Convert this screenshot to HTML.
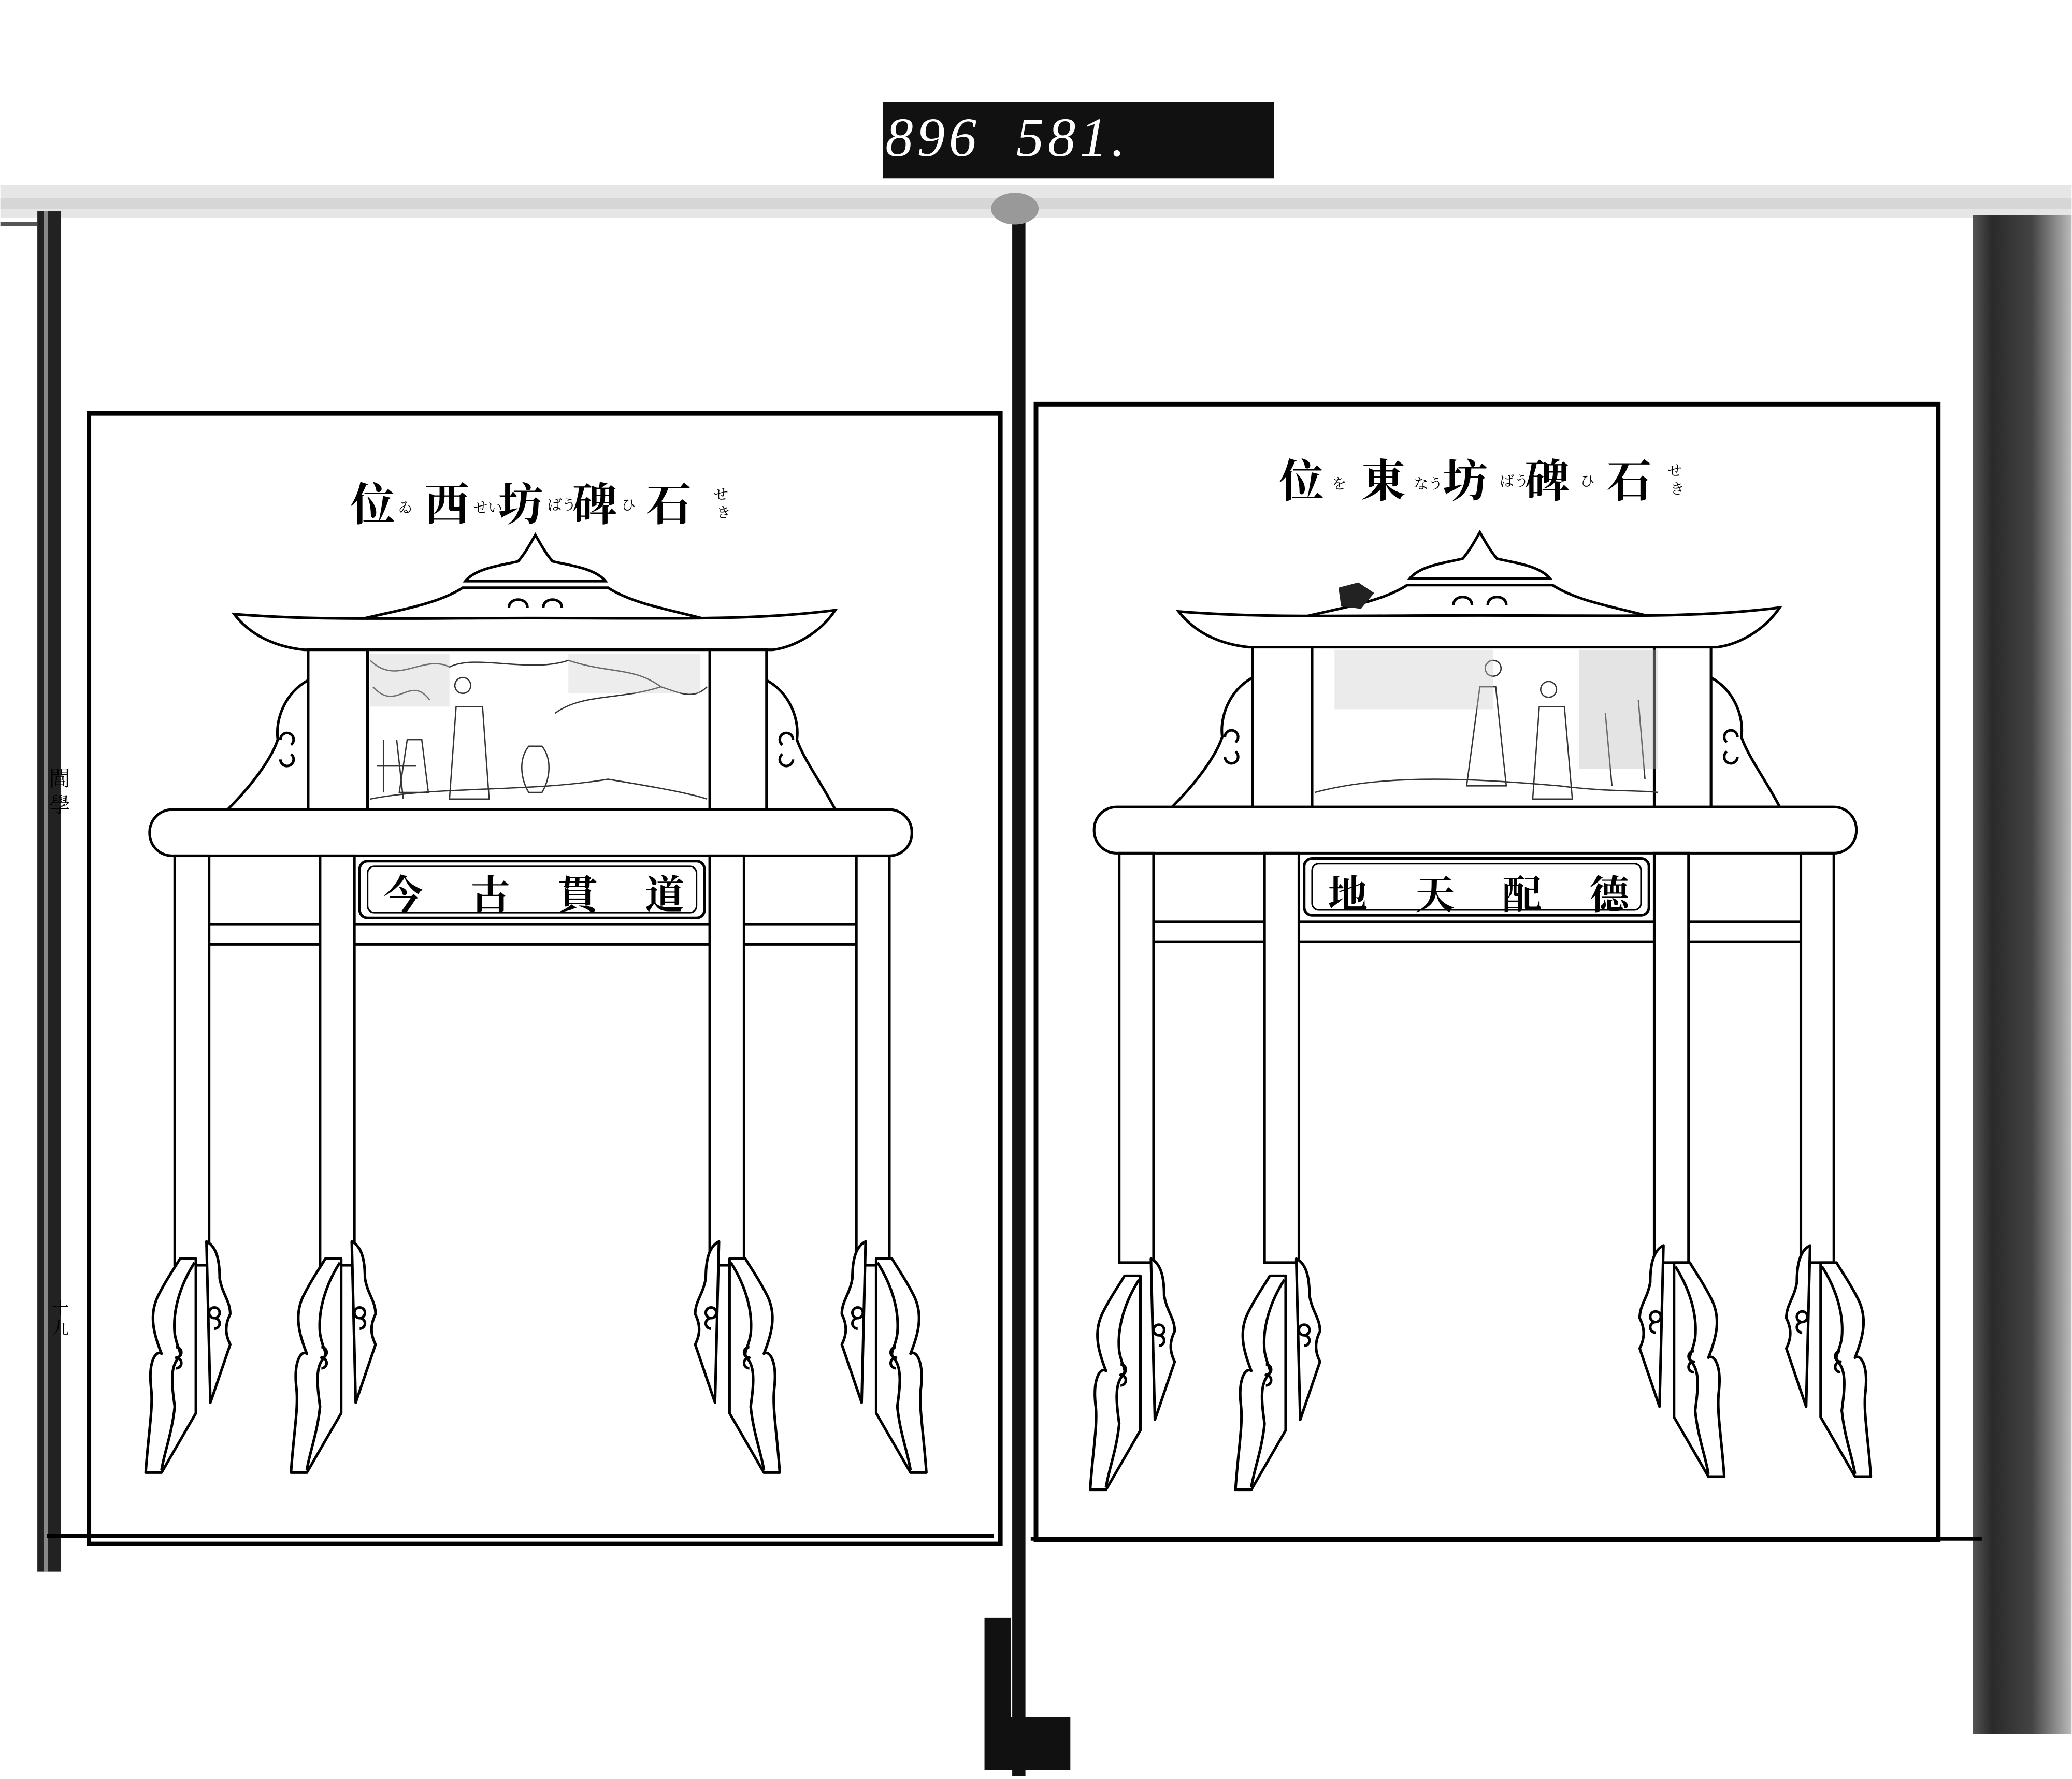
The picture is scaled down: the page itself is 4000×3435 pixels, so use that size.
<!DOCTYPE html>
<html><head><meta charset="utf-8"><style>
html,body{margin:0;padding:0;background:#fff;}
svg{display:block;}
text{font-family:"Liberation Serif","Noto Serif CJK SC","Noto Sans CJK JP",serif;}
</style></head><body>
<svg width="4000" height="3435" viewBox="0 0 1568 1347" xmlns="http://www.w3.org/2000/svg">
<defs>
<linearGradient id="edge" x1="0" x2="1" y1="0" y2="0">
<stop offset="0" stop-color="#555"/><stop offset="0.2" stop-color="#2a2a2a"/><stop offset="0.6" stop-color="#444"/><stop offset="1" stop-color="#bbb"/>
</linearGradient>
<g id="foot" fill="#fff" stroke="#000" stroke-width="2" stroke-linejoin="round">
  <path d="M156,940 C164,944 166,955 166,968 C168,980 174,985 174,995 C170,1003 170,1010 174,1018 L159,1062 Z"/>
  <path d="M162,990 a4,4 0 1 1 0,8 a4,4 0 1 1 0,-8 M162,998 a4,4 0 1 1 0,8" fill="none"/>
  <path d="M136,953 L148,953 L148,1070 L122,1115 L110,1115 C112,1085 116,1065 114,1050 C112,1030 118,1022 122,1025 C116,1010 112,995 120,980 C126,968 132,960 136,953 Z"/>
  <path d="M147,956 C138,970 130,990 132,1010 C134,1022 138,1024 135,1028 C128,1035 130,1050 132,1065 C130,1085 124,1100 122,1113" fill="none"/>
  <path d="M133,1020 a4,4 0 1 1 0,8 a4,4 0 1 1 0,8" fill="none"/>
</g>
<g id="gate" stroke="#000" stroke-width="2" fill="#fff">
  <path d="M352,440 C360,430 380,428 392,425 C398,418 402,410 405,405 C408,410 412,418 418,425 C430,428 450,430 458,440 Z"/>
  <path d="M268,470 C300,462 330,458 350,445 L460,445 C480,458 510,462 538,470 Z"/>
  <path d="M385,460 c0,-8 14,-8 14,0 M425,460 c0,-8 -14,-8 -14,0" fill="none"/>
  <path d="M177,465 C240,470 300,468 405,468 C510,468 570,470 632,462 C620,480 600,490 585,492 L230,492 C210,490 190,482 177,465 Z"/>
  <path d="M233,515 C215,525 208,545 210,560 C205,575 190,595 172,613 L233,613 Z"/>
  <path d="M580,515 C598,525 605,545 603,560 C608,575 623,595 632,613 L580,613 Z"/>
  <path d="M212,560 a5,5 0 1 1 8,4 M212,575 a5,5 0 1 0 8,-4 M600,560 a5,5 0 1 0 -8,4 M600,575 a5,5 0 1 1 -8,-4" fill="none"/>
  <rect x="233" y="492" width="45" height="122"/>
  <rect x="537" y="492" width="43" height="122"/>
  <rect x="278" y="492" width="259" height="122"/>
  <rect x="113" y="613" width="577" height="35" rx="17"/>
  <line x1="158" y1="700" x2="648" y2="700"/>
  <line x1="158" y1="715" x2="648" y2="715"/>
  <rect x="132" y="648" width="26" height="310"/>
  <rect x="242" y="648" width="26" height="310"/>
  <rect x="537" y="648" width="26" height="310"/>
  <rect x="648" y="648" width="25" height="310"/>
  <rect x="272" y="652" width="261" height="43" rx="6"/>
  <rect x="278" y="656" width="249" height="35" rx="5" fill="none" stroke-width="1.2"/>
</g>
</defs>

<rect x="0" y="140" width="1568" height="25" fill="#e6e6e6"/>
<rect x="0" y="150" width="1568" height="8" fill="#d6d6d6"/>
<rect x="668" y="77" width="296" height="58" fill="#111"/>
<text x="670" y="118" font-size="42" fill="#fff" font-style="italic" font-family="Liberation Mono, monospace" letter-spacing="3">896&#160;&#160;581.</text>

<rect x="28" y="160" width="18" height="1030" fill="#222"/>
<rect x="33" y="160" width="3" height="1030" fill="#888"/>
<rect x="0" y="168" width="28" height="3" fill="#555"/>
<line x1="35" y1="1163" x2="752" y2="1163" stroke="#000" stroke-width="3"/>
<text x="37" y="595" font-size="16" fill="#000">閭</text>
<text x="37" y="615" font-size="16" fill="#000">學</text>
<text x="39" y="995" font-size="13" fill="#000">十</text>
<text x="39" y="1010" font-size="13" fill="#000">九</text>

<rect x="1493" y="163" width="75" height="1150" fill="url(#edge)"/>
<line x1="780" y1="1165" x2="1500" y2="1165" stroke="#000" stroke-width="3"/>

<rect x="766" y="150" width="10" height="1195" fill="#111"/>
<rect x="745" y="1225" width="20" height="115" fill="#111"/>
<rect x="755" y="1300" width="55" height="40" fill="#111"/>
<ellipse cx="768" cy="158" rx="18" ry="12" fill="#999"/>

<rect x="67" y="313" width="690" height="856" fill="none" stroke="#000" stroke-width="3.5"/>
<rect x="784" y="306" width="683" height="860" fill="none" stroke="#000" stroke-width="3.5"/>

<text x="265" y="394" font-size="34" font-weight="bold" letter-spacing="22">位西坊碑石</text>
<g font-size="11"><text x="301" y="388">ゐ</text><text x="358" y="388">せい</text><text x="414" y="386">ばう</text><text x="470" y="386">ひ</text><text x="540" y="378">せ</text><text x="542" y="392">き</text></g>
<text x="968" y="376" font-size="34" font-weight="bold" letter-spacing="28">位東坊碑石</text>
<g font-size="11"><text x="1008" y="370">を</text><text x="1070" y="370">なう</text><text x="1135" y="368">ばう</text><text x="1196" y="368">ひ</text><text x="1262" y="360">せ</text><text x="1264" y="374">き</text></g>

<use href="#gate"/>
<use href="#foot"/>
<use href="#foot" transform="translate(110,0)"/>
<use href="#foot" transform="translate(700,0) scale(-1,1)"/>
<use href="#foot" transform="translate(811,0) scale(-1,1)"/>
<text x="290" y="688" font-size="30" font-weight="bold" letter-spacing="36">今古貫道</text>
<g stroke="#333" stroke-width="1" fill="none">
  <path d="M280,500 C300,520 320,495 340,505 C360,495 400,510 430,500 C460,510 480,505 500,520"/>
  <path d="M282,520 C300,540 310,510 325,530 M420,540 C440,525 470,530 500,520 C515,525 525,530 535,520"/>
  <path d="M290,560 l0,40 M300,560 l5,45 M285,580 l30,0"/>
  <path d="M345,535 l-5,70 l30,0 l-5,-70 z M350,525 a6,6 0 1 1 0.1,0"/>
  <path d="M308,560 l-6,40 l22,0 l-5,-40 z"/>
  <path d="M400,565 c-8,10 -6,25 0,35 l10,0 c6,-10 8,-25 0,-35 z"/>
  <path d="M280,605 C330,595 400,600 460,590 C490,595 520,600 535,605"/>
</g>
<rect x="280" y="495" width="60" height="40" fill="#ccc" opacity="0.4"/>
<rect x="430" y="495" width="100" height="30" fill="#ccc" opacity="0.35"/>

<g transform="translate(715,-2)">
<use href="#gate"/>
<use href="#foot" transform="translate(0,15)"/>
<use href="#foot" transform="translate(110,15)"/>
<use href="#foot" transform="translate(700,5) scale(-1,1)"/>
<use href="#foot" transform="translate(811,5) scale(-1,1)"/>
</g>
<text x="1005" y="688" font-size="30" font-weight="bold" letter-spacing="36">地天配德</text>
<g stroke="#333" stroke-width="1" fill="none">
  <path d="M1120,520 l-10,75 l30,0 l-8,-75 z M1130,512 a6,6 0 1 1 0.1,0"/>
  <path d="M1165,535 l-5,70 l30,0 l-6,-70 z M1172,528 a6,6 0 1 1 0.1,0"/>
  <path d="M1215,540 l5,55 M1240,530 l5,60"/>
  <path d="M995,600 C1050,585 1120,590 1180,595 C1220,600 1240,598 1255,600"/>
</g>
<rect x="1010" y="492" width="120" height="45" fill="#ccc" opacity="0.4"/>
<rect x="1195" y="492" width="60" height="90" fill="#bbb" opacity="0.4"/>
<path d="M1013,445 l15,-4 l12,8 l-10,12 l-15,-2 z" fill="#222"/>
</svg>
</body></html>
